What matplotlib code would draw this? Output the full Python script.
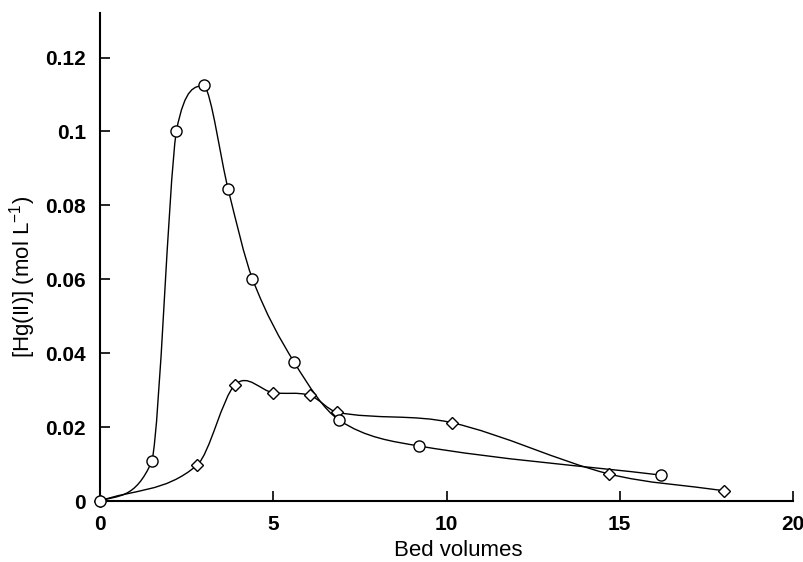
import matplotlib
matplotlib.use("Agg")
import matplotlib.pyplot as plt
import numpy as np
from matplotlib.path import Path
from matplotlib.patches import PathPatch

# Values
circle_x = [0, 1.5, 2.2, 3.0, 3.7, 4.4, 5.6, 6.9, 9.2, 16.2]
circle_y = [0, 0.0108, 0.100, 0.1127, 0.0843, 0.0601, 0.0376, 0.0219, 0.0149, 0.0070]
diamond_x = [0, 2.8, 3.9, 5.0, 6.05, 6.85, 10.15, 14.7, 18.0]
diamond_y = [0, 0.0097, 0.0315, 0.0293, 0.0286, 0.0240, 0.0212, 0.0073, 0.0028]

x_ticks = [0, 5, 10, 15, 20]
y_ticks = [0, 0.02, 0.04, 0.06, 0.08, 0.1, 0.12]
y_tick_labels = ["0", "0.02", "0.04", "0.06", "0.08", "0.1", "0.12"]

plt.rcParams["font.family"] = ["Liberation Sans", "DejaVu Sans"]
plt.rcParams["mathtext.fontset"] = "custom"
plt.rcParams["mathtext.rm"] = "Liberation Sans"
plt.rcParams["mathtext.default"] = "regular"


def smooth_path(xs, ys, monotone=False):
    """Hermite curve through the points, written as cubic Bezier segments."""
    x = np.asarray(xs, float)
    y = np.asarray(ys, float)
    h = np.diff(x)
    s = np.diff(y) / h
    n = len(x)
    # slope at each node on the left and right side of it
    m = np.empty(n)
    m[0], m[-1] = s[0], s[-1]
    m[1:-1] = (y[2:] - y[:-2]) / (x[2:] - x[:-2])
    ml, mr = m.copy(), m.copy()
    if monotone:
        for i in range(1, n - 1):
            if s[i - 1] * s[i] <= 0:  # local extremum: sharp turn
                ml[i] = 0.3 * s[i - 1]
                mr[i] = 0.3 * s[i]
    verts = [(x[0], y[0])]
    codes = [Path.MOVETO]
    for i in range(n - 1):
        a, b = mr[i], ml[i + 1]
        if monotone and s[i] != 0:
            al, be = a / s[i], b / s[i]
            r = al * al + be * be
            if r > 9:
                t = 3 / np.sqrt(r)
                a, b = t * a, t * b
        verts += [(x[i] + h[i] / 3, y[i] + a * h[i] / 3),
                  (x[i + 1] - h[i] / 3, y[i + 1] - b * h[i] / 3),
                  (x[i + 1], y[i + 1])]
        codes += [Path.CURVE4] * 3
    return Path(verts, codes)


fig = plt.figure(figsize=(8.04, 5.62), dpi=100)
ax = fig.add_axes([0.1244, 0.1085, 0.862, 0.868])

ax.add_patch(PathPatch(smooth_path(circle_x, circle_y, monotone=True),
                       facecolor="none", edgecolor="black", lw=1.0, clip_on=False))
ax.add_patch(PathPatch(smooth_path(diamond_x, diamond_y),
                       facecolor="none", edgecolor="black", lw=1.0, clip_on=False))

ax.plot(diamond_x, diamond_y, ls="none", marker="D", ms=6.5, mfc="white",
        mec="black", mew=1.0, clip_on=False, zorder=3)
ax.plot(circle_x, circle_y, ls="none", marker="o", ms=8, mfc="white",
        mec="black", mew=1.0, clip_on=False, zorder=4)

ax.set_xlim(0, 20)
ax.set_ylim(0, 0.132)
ax.set_xticks(x_ticks)
ax.set_yticks(y_ticks)
ax.set_yticklabels(y_tick_labels)
for sp in ("top", "right"):
    ax.spines[sp].set_visible(False)
for sp in ("left", "bottom"):
    ax.spines[sp].set_linewidth(1.5)
ax.tick_params(direction="in", length=7, width=1.2, pad=10, labelsize=15)
for lab in ax.get_xticklabels() + ax.get_yticklabels():
    lab.set_fontweight("bold")

ax.set_xlabel("Bed volumes", fontsize=16)
ax.xaxis.set_label_coords(0.517, -0.08)
ax.set_ylabel("[Hg(II)] (mol L$^{-1}$)", fontsize=16)
ax.yaxis.set_label_coords(-0.09, 0.46)

fig.savefig("out.png", dpi=100)
